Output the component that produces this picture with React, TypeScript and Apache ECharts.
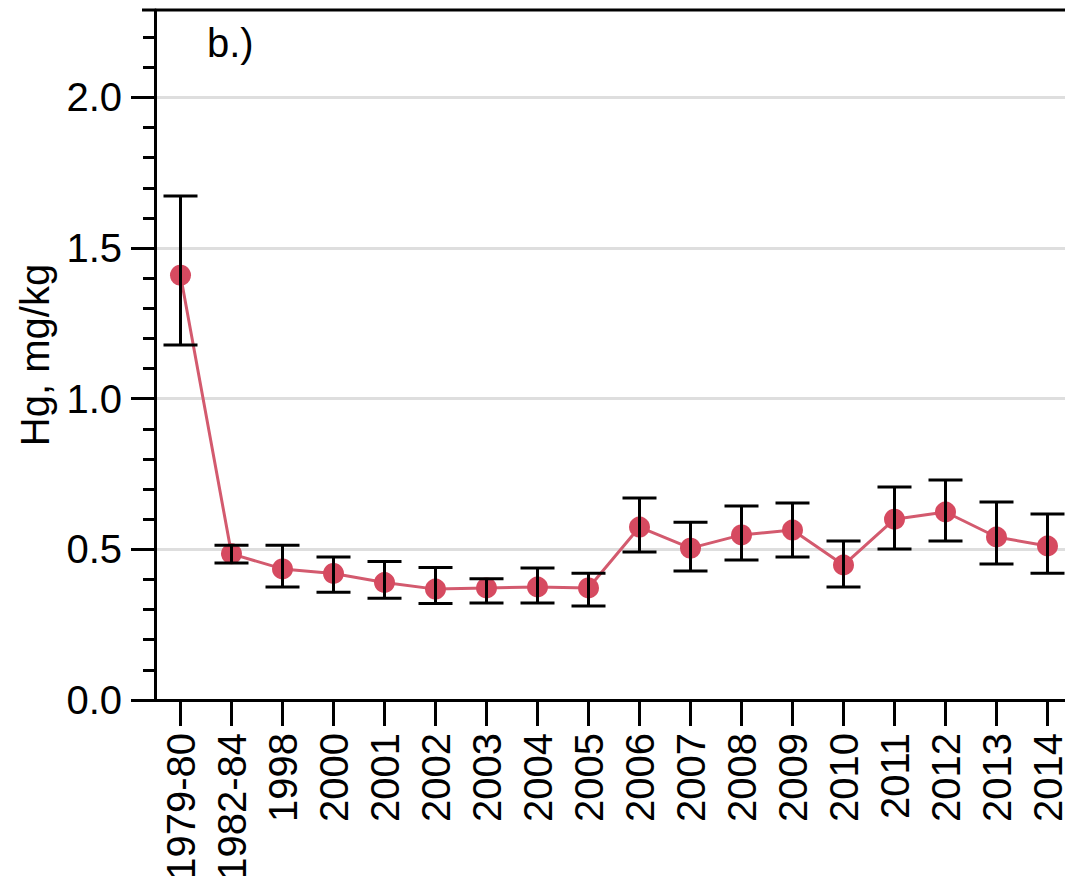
import React, { useEffect, useRef } from "react";
import * as echarts from "echarts";

const categories = [
  "1979-80", "1982-84", "1998", "2000", "2001", "2002", "2003", "2004", "2005",
  "2006", "2007", "2008", "2009", "2010", "2011", "2012", "2013", "2014",
];
const meanValues = [
  1.41, 0.485, 0.435, 0.42, 0.39, 0.368, 0.372, 0.375, 0.372,
  0.574, 0.504, 0.548, 0.564, 0.448, 0.6, 0.624, 0.541, 0.511,
];
const lowerValues = [
  1.178, 0.455, 0.375, 0.358, 0.338, 0.32, 0.322, 0.322, 0.312,
  0.491, 0.428, 0.465, 0.475, 0.375, 0.501, 0.528, 0.451, 0.421,
];
const upperValues = [
  1.673, 0.514, 0.514, 0.475, 0.46, 0.44, 0.402, 0.438, 0.421,
  0.67, 0.59, 0.644, 0.654, 0.528, 0.707, 0.73, 0.657, 0.617,
];
const majorTicks = [0, 0.5, 1.0, 1.5, 2.0];
const minorTicks = [
  0.1, 0.2, 0.3, 0.4, 0.6, 0.7, 0.8, 0.9, 1.1, 1.2, 1.3, 1.4,
  1.6, 1.7, 1.8, 1.9, 2.1, 2.2,
];
const yMin = 0;
const yMax = 2.29;
const yAxisName = "Hg, mg/kg";
const panelLabel = "b.)";

const FONT = "'Liberation Sans', Arial, Helvetica, sans-serif";

export default function App() {
  const ref = useRef<HTMLDivElement>(null);
  useEffect(() => {
    if (!ref.current) return;
    const chart = echarts.init(ref.current, null, { renderer: "svg" });
    const errData = categories.map((_, i) => [i, lowerValues[i], upperValues[i]]);
    chart.setOption({
      animation: false,
      backgroundColor: "#ffffff",
      textStyle: { fontFamily: FONT },
      grid: {
        left: 155,
        top: 10,
        width: 918,
        height: 690,
        containLabel: false,
        outerBoundsMode: "none",
      },
      xAxis: {
        type: "category",
        data: categories,
        boundaryGap: true,
        axisLine: { show: true, lineStyle: { color: "#000", width: 3 } },
        axisTick: { show: true, alignWithLabel: true, length: 26, lineStyle: { color: "#000", width: 3 } },
        axisLabel: {
          rotate: 90,
          interval: 0,
          margin: 33,
          color: "#000",
          fontSize: 40,
          fontFamily: FONT,
        },
        splitLine: { show: false },
      },
      yAxis: [
        {
          type: "value",
          min: yMin,
          max: yMax,
          interval: 0.5,
          position: "left",
          name: yAxisName,
          nameLocation: "middle",
          nameGap: 100,
          nameTextStyle: { color: "#000", fontSize: 40, fontFamily: FONT },
          axisLine: { show: true, lineStyle: { color: "#000", width: 3 } },
          axisTick: {
            show: true,
            length: 24,
            customValues: majorTicks,
            lineStyle: { color: "#000", width: 3 },
          },
          axisLabel: {
            customValues: majorTicks,
            margin: 33,
            color: "#000",
            fontSize: 40,
            fontFamily: FONT,
            formatter: (v: number) => v.toFixed(1),
          },
          splitLine: { show: true, lineStyle: { color: "#dedede", width: 3 } },
        },
        {
          type: "value",
          min: yMin,
          max: yMax,
          position: "left",
          axisLine: { show: false },
          axisTick: {
            show: true,
            length: 12,
            customValues: minorTicks,
            lineStyle: { color: "#000", width: 3 },
          },
          axisLabel: { show: false },
          splitLine: { show: false },
        },
      ],
      graphic: [
        {
          type: "line",
          shape: { x1: 142, y1: 10, x2: 1065, y2: 10 },
          style: { stroke: "#000", lineWidth: 3 },
          z: 100,
        },
        {
          type: "text",
          x: 207,
          y: 43,
          style: {
            text: panelLabel,
            fill: "#000",
            fontSize: 40,
            fontFamily: FONT,
            textAlign: "left",
            textVerticalAlign: "middle",
          },
        },
      ],
      series: [
        {
          type: "line",
          data: meanValues,
          symbol: "circle",
          symbolSize: 21,
          itemStyle: { color: "#d64a60" },
          lineStyle: { color: "#d35a6e", width: 3 },
          z: 2,
        },
        {
          type: "custom",
          data: errData,
          encode: { x: 0, y: [1, 2] },
          z: 5,
          renderItem: (params: any, api: any) => {
            const xi = api.value(0);
            const lo = api.coord([xi, api.value(1)]);
            const hi = api.coord([xi, api.value(2)]);
            const half = 17;
            const style = { stroke: "#000", lineWidth: 3 };
            return {
              type: "group",
              children: [
                { type: "line", shape: { x1: hi[0], y1: hi[1], x2: lo[0], y2: lo[1] }, style },
                { type: "line", shape: { x1: hi[0] - half, y1: hi[1], x2: hi[0] + half, y2: hi[1] }, style },
                { type: "line", shape: { x1: lo[0] - half, y1: lo[1], x2: lo[0] + half, y2: lo[1] }, style },
              ],
            };
          },
        },
      ],
    });
    return () => chart.dispose();
  }, []);
  return (
    <div
      ref={ref}
      style={{ position: "absolute", left: 0, top: 0, width: 1065, height: 876 }}
    />
  );
}
